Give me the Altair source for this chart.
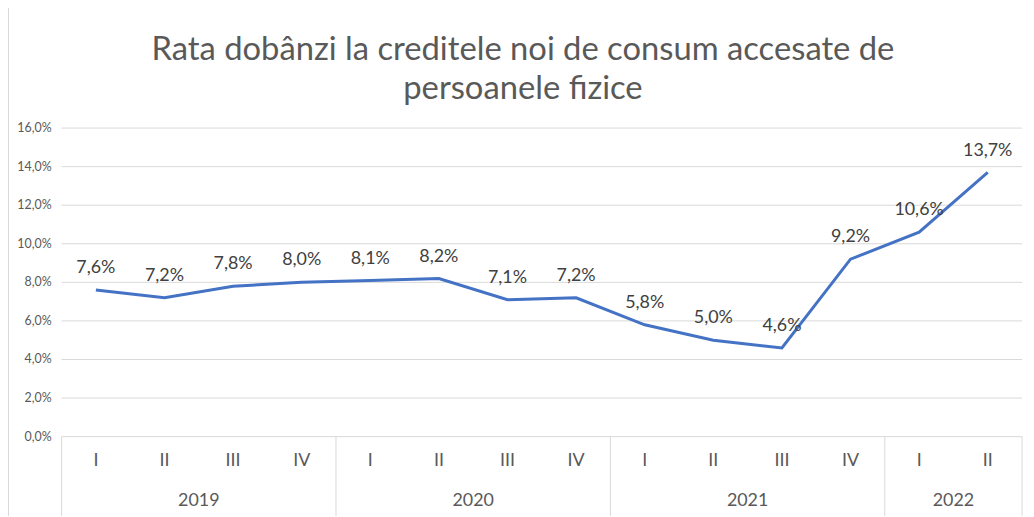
import altair as alt
import pandas as pd

quarters = ["I", "II", "III", "IV", "I", "II", "III", "IV", "I", "II", "III", "IV", "I", "II"]
years = ["2019"] * 4 + ["2020"] * 4 + ["2021"] * 4 + ["2022"] * 2
values = [7.6, 7.2, 7.8, 8.0, 8.1, 8.2, 7.1, 7.2, 5.8, 5.0, 4.6, 9.2, 10.6, 13.7]
y_ticks = [0, 2, 4, 6, 8, 10, 12, 14, 16]

title_lines = ["Rata dobânzi la creditele noi de consum accesate de", "persoanele fizice"]

df = pd.DataFrame({
    "idx": list(range(len(values))),
    "quarter": quarters,
    "year": years,
    "value": values,
})
df["label"] = [f"{v:.1f}%".replace(".", ",") for v in values]

yr = df.groupby("year", as_index=False).agg(center=("idx", "mean"), end=("idx", "max"))
yr["center"] = yr["center"].astype(float)
bounds = pd.DataFrame({"b": [-0.5] + [float(e) + 0.5 for e in yr["end"]]})

ticks_df = pd.DataFrame({"t": y_ticks})
ticks_df["tl"] = [f"{t:.1f}%".replace(".", ",") for t in y_ticks]

W, H = 968, 311
FONT = "Lato"
xscale = alt.Scale(domain=[-0.5, len(values) - 0.5], nice=False, zero=False)
yscale = alt.Scale(domain=[0, 16], nice=False)

base = alt.Chart(df)

grid = alt.Chart(ticks_df).mark_rule(color="#D9D9D9", strokeWidth=1).encode(
    y=alt.Y("t:Q", scale=yscale, axis=None),
    x=alt.value(0),
    x2=alt.value(W),
)

ytext = alt.Chart(ticks_df).mark_text(font=FONT, fontSize=12.5, color="#595959",
                                      align="right", baseline="middle").encode(
    y=alt.Y("t:Q", scale=yscale, axis=None),
    x=alt.value(-10),
    text="tl:N",
)

line = base.mark_line(color="#4472C4", strokeWidth=3).encode(
    x=alt.X("idx:Q", scale=xscale, axis=None),
    y=alt.Y("value:Q", scale=yscale, axis=None),
)

labels = base.mark_text(font=FONT, fontSize=18, color="#404040", dy=-22, baseline="middle").encode(
    x=alt.X("idx:Q", scale=xscale, axis=None),
    y=alt.Y("value:Q", scale=yscale, axis=None),
    text="label:N",
)

qlabels = base.mark_text(font=FONT, fontSize=18, color="#595959", baseline="middle").encode(
    x=alt.X("idx:Q", scale=xscale, axis=None),
    y=alt.value(H + 25),
    text="quarter:N",
)

ylabels = alt.Chart(yr).mark_text(font=FONT, fontSize=18, color="#595959", baseline="middle").encode(
    x=alt.X("center:Q", scale=xscale, axis=None),
    y=alt.value(H + 65),
    text="year:N",
)

seps = alt.Chart(bounds).mark_rule(color="#D9D9D9", strokeWidth=1).encode(
    x=alt.X("b:Q", scale=xscale, axis=None),
    y=alt.value(H),
    y2=alt.value(H + 80),
)

border = alt.Chart(pd.DataFrame({"a": [0]})).mark_rule(color="#D9D9D9", strokeWidth=1).encode(
    x=alt.value(-53.5),
    y=alt.value(-130),
    y2=alt.value(H + 80),
)

title = alt.Chart(pd.DataFrame({"a": [0]})).mark_text(
    text=title_lines, font=FONT, fontSize=33, color="#595959", align="center",
    baseline="alphabetic", lineHeight=40,
).encode(
    x=alt.value(W / 2 - 19),
    y=alt.value(-69),
)

chart = alt.layer(grid, ytext, seps, border, line, labels, qlabels, ylabels, title).properties(
    width=W,
    height=H,
    autosize=alt.AutoSizeParams(type="none"),
    padding={"left": 54, "top": 119, "right": 4, "bottom": 79},
).configure_view(stroke=None)

chart.save("out.html", embed_options={"renderer": "svg", "actions": False})
